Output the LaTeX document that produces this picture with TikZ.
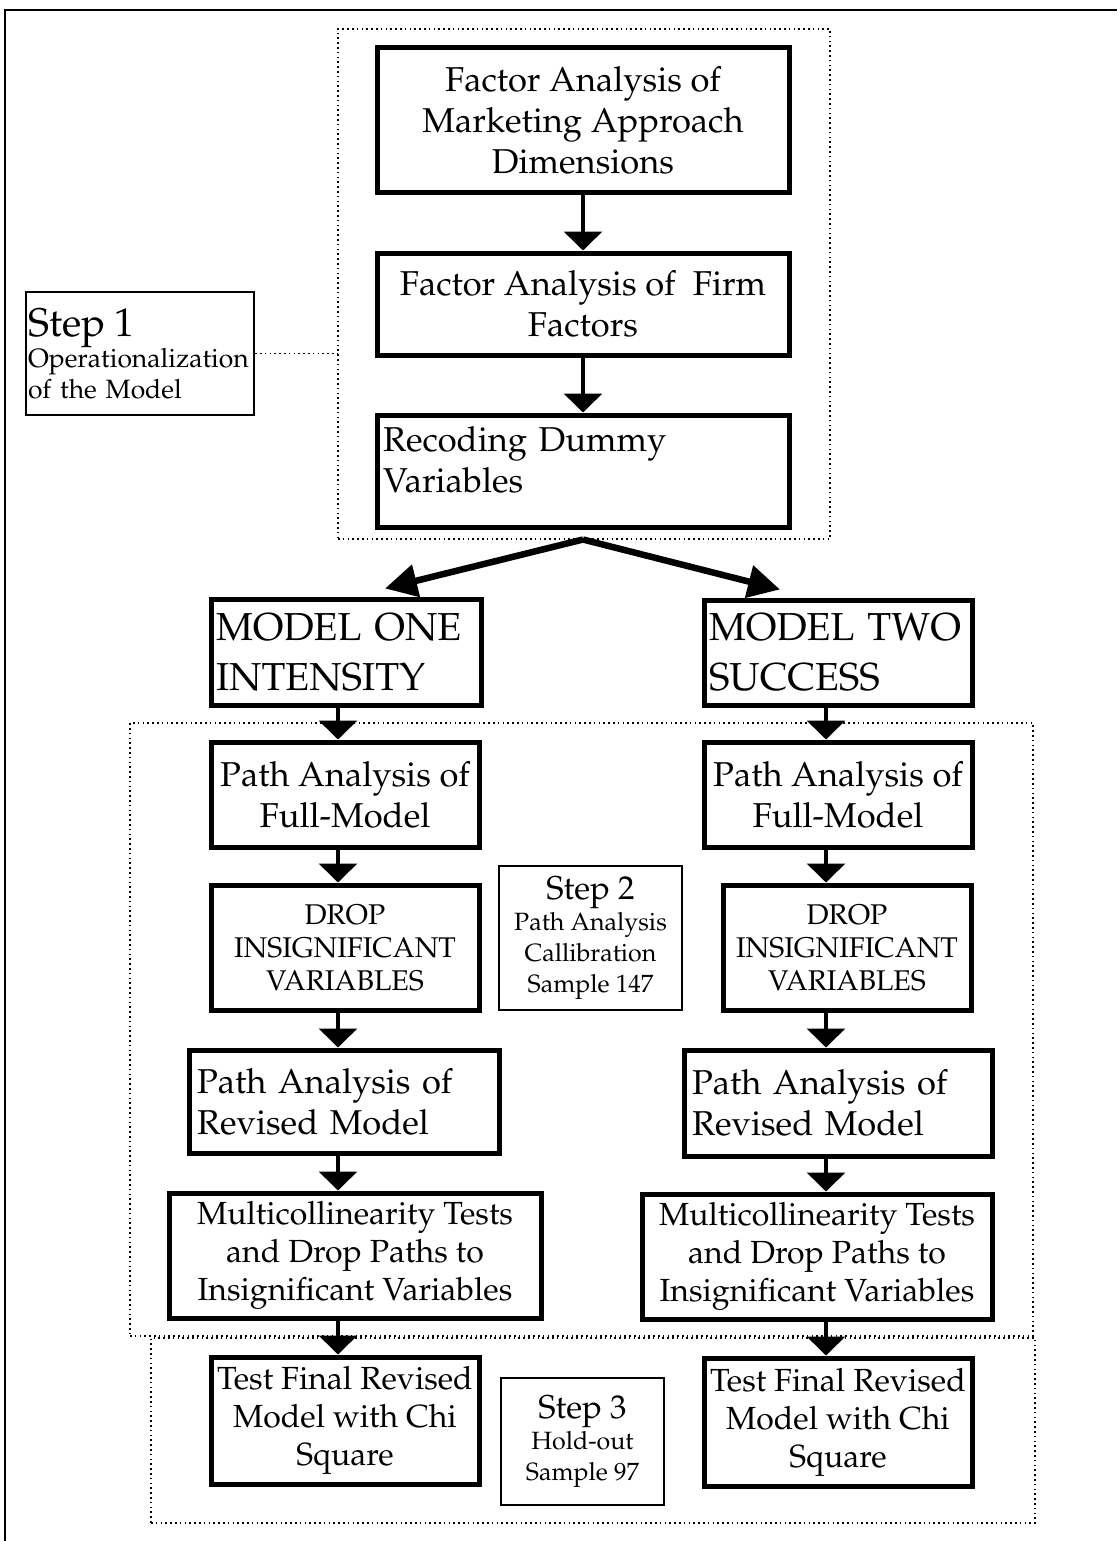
\documentclass[tikz,border=0pt]{standalone}
\usepackage[T1]{fontenc}
\usepackage{mathpazo}
\usetikzlibrary{arrows.meta}

\tikzset{
  x=1pt, y=-1pt,
  flowbox/.style={draw, line width=5pt, inner sep=3pt, align=center},
  leftbox/.style={draw, line width=5pt, inner ysep=3pt, align=left},
  stepbox/.style={draw, line width=2.5pt, inner sep=2pt, align=center},
  groupbox/.style={draw, line width=1.6pt, dash pattern=on 1.6pt off 3.2pt},
  linkdots/.style={line width=1.6pt, dash pattern=on 1.6pt off 3.2pt},
  flowarrow/.style={line width=3.5pt, -{Triangle[length=19pt,width=38pt]}},
  splitarrow/.style={line width=6.5pt, -{Triangle[length=32pt,width=32pt]}},
  fmain/.style={font=\fontsize{34.5}{41}\selectfont},
  fmodel/.style={font=\fontsize{39}{50}\selectfont},
  fdrop/.style={font=\fontsize{28.5}{33}\selectfont},
  fmulti/.style={font=\fontsize{32}{38}\selectfont},
  fstep/.style={font=\fontsize{25}{31}\selectfont},
}
\newcommand{\steptitle}[1]{{\fontsize{33}{36}\selectfont #1}}

\begin{document}
\begin{tikzpicture}
\useasboundingbox (0,0) rectangle (1117,1541);
\fill[white] (0,0) rectangle (1117,1541);

% page frame
\draw[line width=2.5pt] (5,1541) -- (5,10) -- (1117,10);

% dotted groups
\node[groupbox, minimum width=492pt, minimum height=510pt] (grp1) at (584,284) {};
\node[groupbox, minimum width=903pt, minimum height=613pt] (grp2) at (581.5,1029.5) {};
\node[groupbox, minimum width=884pt, minimum height=185pt] (grp3) at (593,1430.5) {};

% step 1: operationalization
\node[flowbox, fmain, minimum width=412pt, minimum height=145pt] (fam) at (583,120.5)
  {Factor Analysis of\\Marketing Approach\\Dimensions};
\node[flowbox, fmain, minimum width=412pt, minimum height=102pt] (faf) at (583,304)
  {Factor Analysis of\ \ Firm\\Factors};
\node[leftbox, fmain, text width=400pt, inner xsep=6pt, minimum height=112pt] (rdv) at (583,471)
  {Recoding Dummy\\Variables\\[-19pt]\mbox{}};
\node[draw, line width=2.5pt, font=\fontsize{26.5}{31}\selectfont, align=left, text width=224pt,
      inner xsep=2pt, inner ysep=2pt, minimum height=123pt] (st1) at (140,353.5)
  {{\fontsize{40}{40}\selectfont Step 1}\\Operationalization\\of the Model};

% the two models
\node[leftbox, fmodel, text width=260pt, inner xsep=5pt, minimum height=106pt] (m1) at (346,652)
  {MODEL~ONE\\INTENSITY};
\node[leftbox, fmodel, text width=258pt, inner xsep=5pt, minimum height=105pt] (m2) at (838,652.5)
  {MODEL~TWO\\SUCCESS};

% step 2: path analysis, calibration sample
\node[flowbox, fmain, minimum width=268pt, minimum height=105pt] (pf1) at (345,794.5)
  {Path Analysis of\\Full-Model};
\node[flowbox, fmain, minimum width=268pt, minimum height=105pt] (pf2) at (838,794.5)
  {Path Analysis of\\Full-Model};
\node[flowbox, fdrop, minimum width=268pt, minimum height=125pt] (dr1) at (345,947.5)
  {DROP\\INSIGNIFICANT\\VARIABLES};
\node[flowbox, fdrop, minimum width=248pt, minimum height=125pt] (dr2) at (847,947.5)
  {DROP\\INSIGNIFICANT\\VARIABLES};
\node[stepbox, fstep, minimum width=183pt, minimum height=144pt] (st2) at (590.5,938)
  {\steptitle{Step 2}\\Path Analysis\\Callibration\\Sample 147};
\node[leftbox, fmain, text width=294pt, inner xsep=8pt, minimum height=103pt] (pr1) at (344,1101.5)
  {Path Analysis of\\Revised Model};
\node[leftbox, fmain, text width=292pt, inner xsep=8pt, minimum height=106pt] (pr2) at (838,1103)
  {Path Analysis of\\Revised Model};
\node[flowbox, fmulti, minimum width=372pt, minimum height=125pt] (mc1) at (355,1255.5)
  {Multicollinearity Tests\\and Drop Paths to\\Insignificant Variables};
\node[flowbox, fmulti, minimum width=350pt, minimum height=125pt] (mc2) at (817,1256.5)
  {Multicollinearity Tests\\and Drop Paths to\\Insignificant Variables};

% step 3: hold-out sample
\node[flowbox, fmulti, minimum width=268pt, minimum height=127pt] (tf1) at (345,1420.5)
  {Test Final Revised\\Model with Chi\\Square};
\node[flowbox, fmulti, minimum width=268pt, minimum height=128pt] (tf2) at (838,1422)
  {Test Final Revised\\Model with Chi\\Square};
\node[stepbox, fstep, minimum width=163pt, minimum height=127pt] (st3) at (582.5,1441.5)
  {\steptitle{Step 3}\\Hold-out\\Sample 97};

% connectors
\draw[linkdots] (st1.east) -- (st1.east -| grp1.west);
\draw[flowarrow] (fam) -- (faf);
\draw[flowarrow] (faf) -- (rdv);
\draw[splitarrow] ([yshift=-10pt]rdv.south) -- ([xshift=39pt,yshift=8pt]m1.north);
\draw[splitarrow] ([yshift=-10pt]rdv.south) -- ([xshift=-58pt,yshift=8pt]m2.north);

\coordinate (colL) at (338,0);
\coordinate (colR) at (826,0);
\draw[flowarrow] (m1.south -| colL) -- (pf1.north -| colL);
\draw[flowarrow] (pf1.south -| colL) -- (dr1.north -| colL);
\draw[flowarrow] (dr1.south -| colL) -- (pr1.north -| colL);
\draw[flowarrow] (pr1.south -| colL) -- (mc1.north -| colL);
\draw[flowarrow] (mc1.south -| colL) -- (tf1.north -| colL);
\draw[flowarrow] (m2.south -| colR) -- (pf2.north -| colR);
\draw[flowarrow] (pf2.south -| colR) -- (dr2.north -| colR);
\draw[flowarrow] (dr2.south -| colR) -- (pr2.north -| colR);
\draw[flowarrow] (pr2.south -| colR) -- (mc2.north -| colR);
\draw[flowarrow] (mc2.south -| colR) -- (tf2.north -| colR);
\end{tikzpicture}
\end{document}
